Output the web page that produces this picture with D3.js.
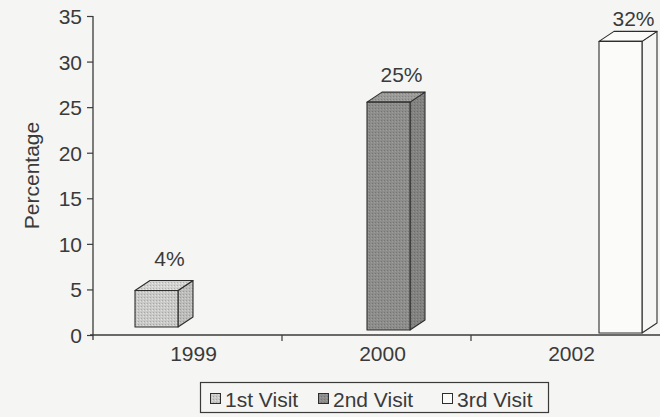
<!DOCTYPE html>
<html>
<head>
<meta charset="utf-8">
<script src="https://cdn.jsdelivr.net/npm/d3@7"></script>
<style>
  html, body { margin: 0; padding: 0; background: #f5f5f3; }
  svg { display: block; }
  text { font-family: "Liberation Sans", Arial, Helvetica, sans-serif; fill: #3a3a3a; }
</style>
</head>
<body>
<svg id="chart" width="660" height="417"></svg>
<script>
// Visit years on the category axis
const years = ["1999", "2000", "2002"];
// One series per visit; each visit has a value only in its own year
const visits = ["1st Visit", "2nd Visit", "3rd Visit"];
const values = [4, 25, 32];
const valueLabels = ["4%", "25%", "32%"];
const yTicks = [0, 5, 10, 15, 20, 25, 30, 35];

const faceColors = [
  { front: "#c9c9c7", top: "#d2d2d0", side: "#bcbcba" },
  { front: "#8d8d8b", top: "#9a9a98", side: "#828280" },
  { front: "#fbfbfa", top: "#fbfbfa", side: "#f6f6f5" }
];

const svg = d3.select("#chart");
const ink = "#3a3a3a";
const fontSize = "21px";
const margin = { left: 93, right: 0, top: 16, bottom: 82 };
const W = 660, H = 417;

const x = d3.scaleBand().domain(years).range([margin.left, W]);
const xInner = d3.scaleBand().domain(visits).range([42, 42 + 43 * 3]);
const y = d3.scaleLinear().domain([0, 35]).range([H - margin.bottom, margin.top]);

// Stipple textures for the shaded faces
const defs = svg.append("defs");
faceColors.forEach((c, i) => {
  ["front", "top", "side"].forEach(face => {
    const p = defs.append("pattern")
      .attr("id", `p${i}${face}`)
      .attr("width", 3).attr("height", 3)
      .attr("patternUnits", "userSpaceOnUse");
    p.append("rect").attr("width", 3).attr("height", 3).attr("fill", c[face]);
    if (i < 2) {
      p.append("rect").attr("x", 0).attr("y", 0).attr("width", 1).attr("height", 1)
        .attr("fill", d3.color(c[face]).darker(0.5));
      p.append("rect").attr("x", 2).attr("y", 1).attr("width", 1).attr("height", 1)
        .attr("fill", d3.color(c[face]).brighter(0.3));
    }
  });
});

// y axis
const yAxis = svg.append("g")
  .attr("transform", `translate(${margin.left},0)`)
  .call(d3.axisLeft(y).tickValues(yTicks).tickSize(6).tickPadding(5));
yAxis.select(".domain").attr("stroke", ink).attr("stroke-width", 1.3)
  .attr("d", `M0,${y(35)}V${y(0) + 5}`);
yAxis.selectAll(".tick line").attr("stroke", ink).attr("stroke-width", 1.2);
yAxis.selectAll(".tick text")
  .style("font-size", fontSize)
  .style("font-family", "'Liberation Sans', Arial, sans-serif")
  .attr("fill", ink).attr("dy", "0.36em");

// x axis baseline with ticks between categories
const xAxis = svg.append("g").attr("transform", `translate(0,${y(0)})`);
xAxis.append("line").attr("x1", margin.left - 3).attr("x2", W)
  .attr("stroke", ink).attr("stroke-width", 1.3);
years.forEach((yr, i) => {
  if (i > 0) {
    xAxis.append("line").attr("x1", x(yr)).attr("x2", x(yr))
      .attr("y1", 0).attr("y2", 6).attr("stroke", ink).attr("stroke-width", 1.2);
  }
});
xAxis.selectAll("text.cat").data(years).join("text")
  .attr("class", "cat")
  .attr("x", d => x(d) + x.bandwidth() / 2 + 6)
  .attr("y", 26)
  .attr("text-anchor", "middle")
  .style("font-size", fontSize)
  .text(d => d);

// y axis title
svg.append("text")
  .attr("transform", `translate(39,${(y(0) + y(35)) / 2}) rotate(-90)`)
  .attr("text-anchor", "middle")
  .style("font-size", fontSize)
  .text("Percentage");

// 3D bars: front face, top and right side
const dx = 15, dy = -10;
const bars = years.map((yr, i) => {
  const x0 = x(yr) + xInner(visits[i]);
  const w = xInner.bandwidth();
  const lift = 8 - 3 * i;            // floor rises slightly toward the back
  const yb = y(0) - lift;
  const yt = y(values[i]) - lift;
  return { i, x0, w, yb, yt };
});

const barG = svg.append("g")
  .attr("stroke", "#2e2e2e").attr("stroke-width", 1.1).attr("stroke-linejoin", "round");
bars.forEach(b => {
  const { i, x0, w, yb, yt } = b;
  const g = barG.append("g");
  g.append("path")
    .attr("d", `M${x0 + w},${yt}L${x0 + w + dx},${yt + dy}L${x0 + w + dx},${yb + dy}L${x0 + w},${yb}Z`)
    .attr("fill", `url(#p${i}side)`);
  g.append("path")
    .attr("d", `M${x0},${yt}L${x0 + dx},${yt + dy}L${x0 + w + dx},${yt + dy}L${x0 + w},${yt}Z`)
    .attr("fill", `url(#p${i}top)`);
  g.append("rect")
    .attr("x", x0).attr("y", yt).attr("width", w).attr("height", yb - yt)
    .attr("fill", `url(#p${i}front)`);
});

// value labels above each bar
svg.selectAll("text.val").data(bars).join("text")
  .attr("class", "val")
  .attr("x", d => d.x0 + d.w / 2 + 13)
  .attr("y", d => d.yt - (25 - 5 * d.i))
  .attr("text-anchor", "middle")
  .style("font-size", fontSize)
  .text(d => valueLabels[d.i]);

// legend
const lg = svg.append("g");
lg.append("rect").attr("x", 200.5).attr("y", 382.5).attr("width", 348).attr("height", 30)
  .attr("fill", "none").attr("stroke", ink).attr("stroke-width", 1.2);
const swatchX = [210, 318, 442];
visits.forEach((v, i) => {
  lg.append("rect")
    .attr("x", swatchX[i] + 0.5).attr("y", 393.5).attr("width", 10).attr("height", 10)
    .attr("fill", `url(#p${i}front)`).attr("stroke", "#2e2e2e").attr("stroke-width", 1);
  lg.append("text")
    .attr("x", swatchX[i] + 15).attr("y", 406.5)
    .style("font-size", fontSize)
    .text(v);
});
</script>
</body>
</html>
